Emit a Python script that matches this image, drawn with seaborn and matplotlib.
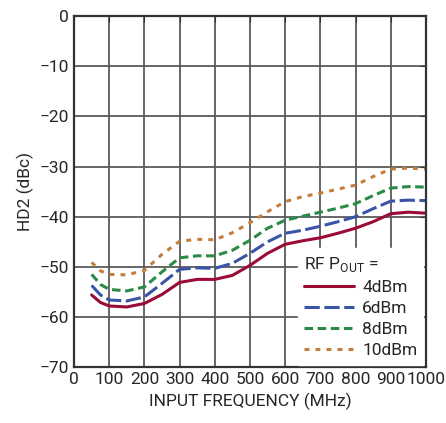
import numpy as np
import pandas as pd
import seaborn as sns
import matplotlib.pyplot as plt

freq = [50, 75, 100, 150, 200, 250, 300, 350, 400, 450, 500, 550, 600, 650, 700, 750, 800, 850, 900, 950, 1000]
hd2_4dbm = [-55.6, -57.1, -57.8, -58.0, -57.3, -55.5, -53.1, -52.5, -52.5, -51.7, -49.7, -47.3, -45.5, -44.8, -44.2, -43.3, -42.3, -41.0, -39.4, -39.1, -39.3]
hd2_6dbm = [-53.7, -55.6, -56.6, -56.8, -56.0, -53.3, -50.5, -50.2, -50.3, -49.3, -47.3, -45.0, -43.3, -42.7, -41.9, -41.0, -40.0, -38.4, -36.9, -36.7, -36.8]
hd2_8dbm = [-51.5, -53.5, -54.5, -54.8, -54.0, -51.0, -48.2, -47.8, -47.8, -46.7, -44.7, -42.3, -40.7, -39.9, -39.1, -38.3, -37.4, -35.8, -34.3, -34.0, -34.1]
hd2_10dbm = [-49.1, -50.8, -51.5, -51.6, -50.7, -47.5, -44.9, -44.5, -44.6, -43.2, -41.2, -39.0, -37.0, -36.0, -35.3, -34.5, -33.7, -32.0, -30.5, -30.3, -30.5]
labels = ['4dBm', '6dBm', '8dBm', '10dBm']

df = pd.DataFrame({
    'freq': freq * 4,
    'hd2': hd2_4dbm + hd2_6dbm + hd2_8dbm + hd2_10dbm,
    'pout': [lab for lab in labels for _ in freq],
})

sns.set_style('white')
plt.rcParams['font.family'] = ['Roboto', 'DejaVu Sans']

colors = {'4dBm': '#9a0b35', '6dBm': '#3a55a5', '8dBm': '#2b8a47', '10dBm': '#c47d3a'}
dashes = {'4dBm': '', '6dBm': (5, 1.5), '8dBm': (2.8, 1.5), '10dBm': (1.6, 2.0)}

fig = plt.figure(figsize=(4.46, 4.23), dpi=100)
ax = fig.add_axes([0.166, 0.132, 0.789, 0.830])

sns.lineplot(data=df, x='freq', y='hd2', hue='pout', style='pout',
             palette=colors, dashes=dashes, linewidth=2.2, ax=ax)

ax.set_xlim(0, 1000)
ax.set_ylim(-70, 0)
ax.set_xticks(np.arange(0, 1001, 100))
ax.set_yticks(np.arange(-70, 1, 10))
ax.set_yticklabels(['\u221270', '\u221260', '\u221250', '\u221240', '\u221230', '\u221220', '\u221210', '0'])
ax.grid(True, color='#5a5a5a', linewidth=1.3)
ax.set_axisbelow(True)
for s in ax.spines.values():
    s.set_color('#333333')
    s.set_linewidth(1.6)
ax.tick_params(axis='both', labelsize=12.5, direction='in', length=4, color='#333333')
ax.tick_params(axis='y', right=True)
ax.tick_params(axis='x', top=True)

ax.set_xlabel('INPUT FREQUENCY (MHz)', fontsize=12.5)
ax.set_ylabel('HD2 (dBc)', fontsize=12.5)

leg = ax.legend(title='RF P$_{\\mathregular{OUT}}$ =', loc='lower right',
                bbox_to_anchor=(1.0, 0.0), fontsize=12.5, title_fontsize=12.5,
                frameon=True, fancybox=False, framealpha=1, edgecolor='white',
                handlelength=2.9, handletextpad=0.45, labelspacing=0.35,
                borderpad=0.35, borderaxespad=0.15)
leg._legend_box.align = 'left'

plt.savefig('out.png', dpi=100)
